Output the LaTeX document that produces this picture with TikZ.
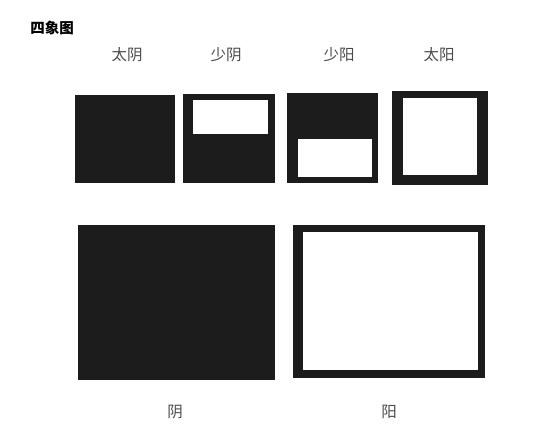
\documentclass[tikz,border=0pt]{standalone}
\usepackage{fontspec}
\newfontfamily\cjk{Noto Sans CJK SC}
\usepackage{tikz}

\definecolor{ink}{HTML}{1C1C1C}
\definecolor{penc}{HTML}{4A4A4A}

\begin{document}
\begin{tikzpicture}[x=1pt,y=-1pt,
  yin/.style={fill=ink},
  yang/.style={fill=white},
  caption/.style={text=penc,font=\cjk\fontsize{15.5}{15.5}\selectfont,inner sep=0pt}]

\useasboundingbox (0,0) rectangle (540,438);

% Title
\node[font=\cjk\bfseries\fontsize{14.5}{14.5}\selectfont,inner sep=0pt] (title) at (52,28) {四象图};

% Four images (top row)
\node[caption] (taiyin) at (127,55) {太阴};
\node[caption] (shaoyin) at (226,55) {少阴};
\node[caption] (shaoyang) at (339,55) {少阳};
\node[caption] (taiyang) at (439,55) {太阳};

\fill[yin] (75,95) rectangle (175,183);

\fill[yin] (183,94) rectangle (275,183);
\fill[yang] (193,100) rectangle (268,134);

\fill[yin] (287,93) rectangle (378,183);
\fill[yang] (298,139) rectangle (372,177);

\fill[yin] (392,91) rectangle (488,185);
\fill[yang] (403,98) rectangle (477,175);

% Two modes (bottom row)
\fill[yin] (78,225) rectangle (275,380);

\fill[yin] (293,225) rectangle (485,378);
\fill[yang] (303,232) rectangle (478,370);

\node[caption] (yin) at (175,412) {阴};
\node[caption] (yang) at (389,412) {阳};

\end{tikzpicture}
\end{document}
